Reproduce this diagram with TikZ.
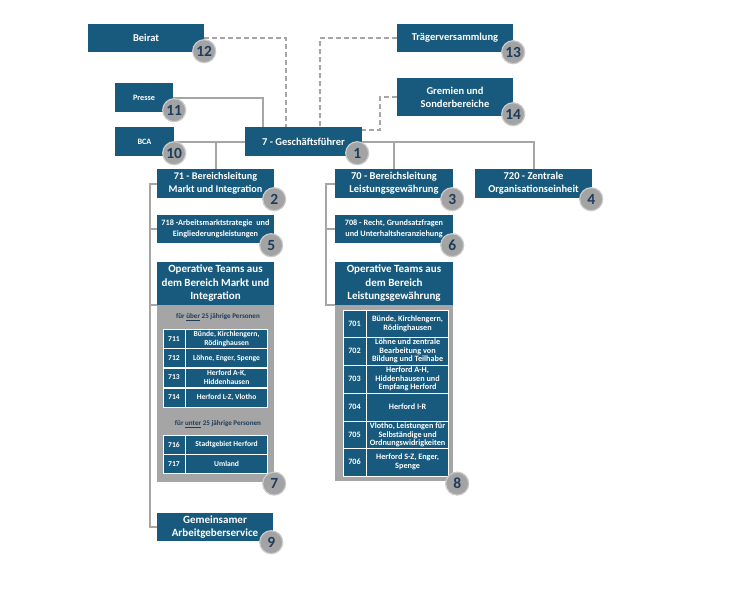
\documentclass[tikz,border=0pt]{standalone}
\usepackage{fontspec}
\setmainfont{Carlito}
\usetikzlibrary{calc,positioning}
\definecolor{OrgBlue}{HTML}{185A7D}
\definecolor{LineGray}{HTML}{A6A6A6}
\definecolor{PoolGray}{HTML}{A5A5A5}
\definecolor{BadgeGray}{HTML}{A3A3A3}
\definecolor{BadgeRim}{HTML}{CACACA}
\definecolor{NumInk}{HTML}{1E3D5C}
\newcommand{\fsz}[2]{\fontsize{#1}{#2}\selectfont\bfseries}

\begin{document}
\begin{tikzpicture}[x=1pt,y=-1pt,
    orgbox/.style={fill=OrgBlue,text=white,align=center,inner sep=1pt,font=\fsz{10.5}{13}},
    smallbox/.style={orgbox,font=\fsz{8.2}{11}},
    pool/.style={fill=PoolGray,inner sep=0pt},
    cell/.style={fill=OrgBlue,draw=white,line width=0.6pt,text=white,align=center,
                 inner sep=0pt,font=\fsz{7.6}{8.6}},
    subhead/.style={text=NumInk,inner sep=0pt,font=\fsz{7.1}{8}},
    badge/.style={circle,fill=BadgeGray,draw=BadgeRim,line width=1.2pt,minimum size=23pt,
                  inner sep=0pt,text=NumInk,font=\fsz{15.5}{15.5}},
    link/.style={LineGray,line width=2pt},
    dlink/.style={link,dash pattern=on 5pt off 3pt}]
  \useasboundingbox (0,0) rectangle (750,600);

  % top level
  \node[orgbox,minimum width=116pt,minimum height=28pt] (beirat) at (146,38) {Beirat};
  \node[orgbox,minimum width=116pt,minimum height=28pt] (traeger) at (455,38) {Trägerversammlung};
  \node[orgbox,minimum width=116pt,minimum height=38pt] (gremien) at (455,97) {Gremien und\\Sonderbereiche};
  \node[smallbox,minimum width=58pt,minimum height=29pt] (presse) at (144,97.5) {Presse};
  \node[smallbox,minimum width=59pt,minimum height=29pt] (bca) at (144.5,141.5) {BCA};
  \node[orgbox,minimum width=117pt,minimum height=29pt] (gf) at (303.5,141.5) {7 - Geschäftsführer};

  % second level
  \node[orgbox,minimum width=117pt,minimum height=29pt,font=\fsz{10.2}{12.5}] (b71) at (215.5,183.5) {71 - Bereichsleitung\\Markt und Integration};
  \node[orgbox,minimum width=118pt,minimum height=29pt] (b70) at (394,183.5) {70 - Bereichsleitung\\Leistungsgewährung};
  \node[orgbox,minimum width=117pt,minimum height=29pt] (b720) at (533.5,183.5) {720 - Zentrale\\Organisationseinheit};
  \node[smallbox,minimum width=117pt,minimum height=28pt] (b718) at (215.5,229) {718 -Arbeitsmarktstrategie\ \ und\\Eingliederungsleistungen};
  \node[smallbox,minimum width=118pt,minimum height=28pt] (b708) at (394,229) {708 - Recht, Grundsatzfragen\\und Unterhaltsheranziehung};

  % operative teams
  \node[orgbox,minimum width=117pt,minimum height=43pt,font=\fsz{11}{13.5}] (opM) at (215.5,283.5) {Operative Teams aus\\dem Bereich Markt und\\Integration};
  \node[pool,minimum width=117pt,minimum height=177pt,below=0pt of opM] (poolM) {};
  \node[orgbox,minimum width=118pt,minimum height=43pt,font=\fsz{11}{13.5}] (opL) at (394,283.5) {Operative Teams aus\\dem Bereich\\Leistungsgewährung};
  \node[pool,minimum width=118pt,minimum height=176pt,below=0pt of opL] (poolL) {};

  \node[subhead] (subA) at (218,317) {für \underline{über} 25 jährige Personen};
  \node[subhead] (subB) at (218,424) {für \underline{unter} 25 jährige Personen};
  \foreach \no/\txt/\y in {711/{Bünde, Kirchlengern,\\Rödinghausen}/339,712/{Löhne, Enger, Spenge}/358,
      713/{Herford A-K,\\Hiddenhausen}/377.5,714/{Herford L-Z, Vlotho}/397.5,
      716/{Stadtgebiet Herford}/444.5,717/{Umland}/464} {
    \node[cell,minimum width=22pt,minimum height=19pt] (no\no) at (174,\y) {\no};
    \node[cell,minimum width=82pt,minimum height=19pt,right=0pt of no\no] (tx\no) {\txt};
  }
  \foreach \no/\txt/\y in {701/{Bünde, Kirchlengern,\\Rödinghausen}/324,
      702/{Löhne und zentrale\\Bearbeitung von\\Bildung und Teilhabe}/351,
      703/{Herford A-H,\\Hiddenhausen und\\Empfang Herford}/379,704/{Herford I-R}/407,
      705/{Vlotho, Leistungen für\\Selbständige und\\Ordnungswidrigkeiten}/435,
      706/{Herford S-Z, Enger,\\Spenge}/462} {
    \node[cell,minimum width=23pt,minimum height=28pt,font=\fsz{8.2}{8.8}] (no\no) at (354.5,\y) {\no};
    \node[cell,minimum width=82pt,minimum height=28pt,font=\fsz{8.2}{8.8},right=0pt of no\no] (tx\no) {\txt};
  }

  \node[orgbox,minimum width=116pt,minimum height=28pt,font=\fsz{11}{13}] (gem) at (215,527) {Gemeinsamer\\Arbeitgeberservice};

  % connectors
  \draw[link] (bca.east) -- (gf.west);
  \draw[link] (gf.east) -| (b720.north);
  \draw[link] (bca.east -| b71.north) -- (b71.north);
  \draw[link] (gf.east -| b70.north) -- (b70.north);
  \draw[link] (presse.east) -| ($(gf.north west)+(18,0)$);
  \draw[dlink] (beirat.east) -| ($(gf.north west)+(41,0)$);
  \draw[dlink] (traeger.west) -| ($(gf.north west)+(75,0)$);
  \draw[dlink] (gremien.west) -- ++(-17,0) |- ($(gf.north east)+(0,3)$);

  \draw[link] (b71.west) -- ++(-7,0) |- (gem.west);
  \draw[link] (b718.west) -- ++(-7,0);
  \draw[link] (poolM.north west) -- ++(-7,0);
  \draw[link] (b70.west) -- ++(-9,0) |- (poolL.north west);
  \draw[link] (b708.west) -- ++(-9,0);

  % number badges
  \foreach \num/\org/\dx/\dy in {1/gf/-5/-3,2/b71/0/1,3/b70/-1/1,4/b720/-1/1,5/b718/-3/2,
      6/b708/-1/2,7/poolM/0/1,8/poolL/4/2,9/gem/-2/1,10/bca/0/-3,11/presse/1/-2,
      12/beirat/0/-1,13/traeger/0/0,14/gremien/0/-2}
    \node[badge] (nb\num) at ([shift={(\dx,\dy)}]\org.south east) {\num};
\end{tikzpicture}
\end{document}
